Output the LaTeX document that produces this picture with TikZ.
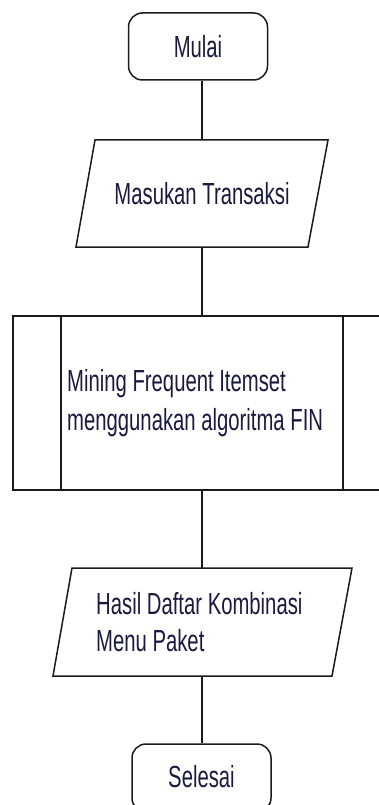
\documentclass[tikz,border=0pt]{standalone}
\usepackage{fontspec}
\setmainfont{Liberation Sans}[FakeStretch=0.665]
\definecolor{ink}{HTML}{1A1A40}
\definecolor{edge}{HTML}{1A1A1A}
\begin{document}
\begin{tikzpicture}[x=1pt,y=-1pt,
  outline/.style={draw=edge, line width=1.5pt},
  link/.style={draw=edge, line width=1.5pt},
  label/.style={text=ink, inner sep=0pt, font=\fontsize{30.5}{39}\selectfont},
  terminal/.style={outline, rounded corners=14pt, minimum width=139pt,
                   minimum height=67pt, inner sep=0pt, text=ink,
                   font=\fontsize{30.5}{39}\selectfont},
  frame/.style={inner sep=0pt, outer sep=0pt}]
\useasboundingbox (0,0) rectangle (379,805);
\clip (0,0) rectangle (379,805);

% common vertical axis of the connectors
\coordinate (spine) at (202,0);

% start terminal
\node[terminal] (mulai) at (198,46.5) {Mulai};

% input: parallelogram
\node[frame, minimum width=252pt, minimum height=107pt] (input) at (202,193.5) {};
\draw[outline] (95,140) -- (328,140) -- (308,247) -- (76,247) -- cycle;
\node[label] (inputtext) at (input.center) {Masukan Transaksi};

% predefined process box with its two inner bars
\node[frame, outline, minimum width=378pt, minimum height=174pt] (proc) at (202,403) {};
\draw[outline] (61,316) -- (61,490);
\draw[outline] (343,316) -- (343,490);
\node[label, anchor=west, align=left] (proctext) at (67,403)
  {Mining Frequent Itemset\\menggunakan algoritma FIN};

% output: parallelogram
\node[frame, minimum width=299pt, minimum height=108pt] (output) at (202.5,622) {};
\draw[outline] (72,568) -- (352,568) -- (332,676) -- (53,676) -- cycle;
\node[label, anchor=west, align=left, font=\fontsize{30.5}{37}\selectfont]
  (outtext) at (96,622) {Hasil Daftar Kombinasi\\Menu Paket};

% end terminal
\node[terminal, minimum height=68pt] (selesai) at (201.5,778) {\raisebox{4pt}{Selesai}};

% connectors
\draw[link] (mulai.south -| spine) -- (input.north -| spine);
\draw[link] (input.south -| spine) -- (proc.north -| spine);
\draw[link] (proc.south -| spine) -- (output.north -| spine);
\draw[link] (output.south -| spine) -- (selesai.north -| spine);
\end{tikzpicture}
\end{document}
